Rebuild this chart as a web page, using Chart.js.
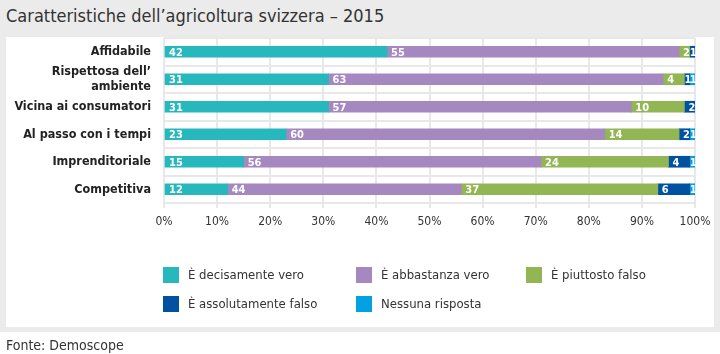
<!DOCTYPE html>
<html>
<head>
<meta charset="utf-8">
<script src="https://cdn.jsdelivr.net/npm/chart.js@4"></script>
<style>
  html,body{margin:0;padding:0;}
  body{width:720px;height:354px;background:#fff;position:relative;overflow:hidden;
       font-family:'Liberation Sans Narrow','DejaVu Sans Condensed',sans-serif;color:#333;}
  #bg{position:absolute;left:0;top:0;width:720px;height:332px;background:#ebebeb;}
  #title{position:absolute;left:6px;top:5px;font-size:18px;white-space:nowrap;}
  #panel{position:absolute;left:6px;top:37px;width:708px;height:290px;background:#fff;}
  #wrap{position:absolute;left:0;top:0;width:720px;height:354px;}
  #legend{position:absolute;left:0;top:0;}
  .lg{position:absolute;font-size:13px;white-space:nowrap;line-height:16px;}
  .lg span{position:absolute;left:-25px;top:0;width:16px;height:16px;}
  #src{position:absolute;left:6px;top:337px;font-size:14px;white-space:nowrap;}
</style>
</head>
<body>
<div id="bg"></div>
<div id="title">Caratteristiche dell’agricoltura svizzera – 2015</div>
<div id="panel"></div>
<div id="wrap"><canvas id="chart" width="720" height="354"></canvas></div>
<div id="legend"></div>
<div id="src">Fonte: Demoscope</div>
<script>
// categories and answers
const categories = ['Affidabile', ['Rispettosa dell’', 'ambiente'], 'Vicina ai consumatori',
  'Al passo con i tempi', 'Imprenditoriale', 'Competitiva'];
const seriesNames = ['È decisamente vero', 'È abbastanza vero', 'È piuttosto falso',
  'È assolutamente falso', 'Nessuna risposta'];
const decisamenteVero = [42, 31, 31, 23, 15, 12];
const abbastanzaVero  = [55, 63, 57, 60, 56, 44];
const piuttostoFalso  = [2, 4, 10, 14, 24, 37];
const assolutamenteFalso = [1, 1, 2, 2, 4, 6];
const nessunaRisposta = [0, 1, 0, 1, 1, 1];
const xTicks = [0, 10, 20, 30, 40, 50, 60, 70, 80, 90, 100];
const colors = ['#27b8bd', '#a688c0', '#92b653', '#0052a1', '#00a0e3'];

const allValues = [decisamenteVero, abbastanzaVero, piuttostoFalso, assolutamenteFalso, nessunaRisposta];
const FONT = "'Liberation Sans Narrow','DejaVu Sans Condensed',sans-serif";

// white value labels at the start of each segment
const segLabels = {
  id: 'segLabels',
  afterDatasetsDraw(chart){
    const ctx = chart.ctx;
    ctx.save();
    ctx.fillStyle = '#fff';
    ctx.font = 'bold 11px ' + FONT;
    ctx.textBaseline = 'middle';
    ctx.textAlign = 'left';
    chart.data.datasets.forEach((ds, i)=>{
      chart.getDatasetMeta(i).data.forEach((el, j)=>{
        const v = ds.data[j];
        if(!v) return;
        const left = Math.min(el.x, el.base);
        const w = Math.abs(el.x - el.base);
        const tx = w < 8 ? left : left + 4;
        ctx.fillText(String(v), tx, el.y + 1);
      });
    });
    ctx.restore();
  }
};

new Chart(document.getElementById('chart'), {
  type: 'bar',
  data: {
    labels: categories,
    datasets: seriesNames.map((n, i)=>({
      label: n, data: allValues[i], backgroundColor: colors[i],
      barThickness: 11, borderWidth: 0
    }))
  },
  options: {
    indexAxis: 'y',
    responsive: false,
    animation: false,
    layout: { padding: { top: 38, right: 25, left: 0, bottom: 0 } },
    plugins: { legend: { display: false }, tooltip: { enabled: false } },
    scales: {
      x: {
        stacked: true, min: 0, max: 100,
        afterBuildTicks(s){ s.ticks = xTicks.map(v=>({value: v})); },
        afterFit(s){ s.height = 354 - 38 - 165; },
        grid: { color: '#e8e8e8', lineWidth: 2, tickLength: 5, drawTicks: true },
        border: { display: false },
        ticks: { padding: 7, color: '#333', font: { family: FONT, size: 12 },
                 maxRotation: 0, autoSkip: false, callback: v => v + '%' }
      },
      y: {
        stacked: true,
        afterFit(s){ s.width = 164; },
        grid: { offset: true, color: '#e8e8e8', lineWidth: 2, drawTicks: false },
        border: { display: false },
        ticks: { padding: 13, autoSkip: false, color: '#222',
                 font: { family: FONT, size: 12.5, weight: 'bold', lineHeight: 1.15 } }
      }
    }
  },
  plugins: [segLabels]
});

// legend
const legendPos = [[188, 267], [381, 267], [551, 267], [188, 296], [381, 296]];
const lg = document.getElementById('legend');
seriesNames.forEach((n, i)=>{
  const d = document.createElement('div');
  d.className = 'lg';
  d.style.left = legendPos[i][0] + 'px';
  d.style.top = legendPos[i][1] + 'px';
  d.innerHTML = '<span style="background:' + colors[i] + '"></span>' + n;
  lg.appendChild(d);
});
</script>
</body>
</html>
